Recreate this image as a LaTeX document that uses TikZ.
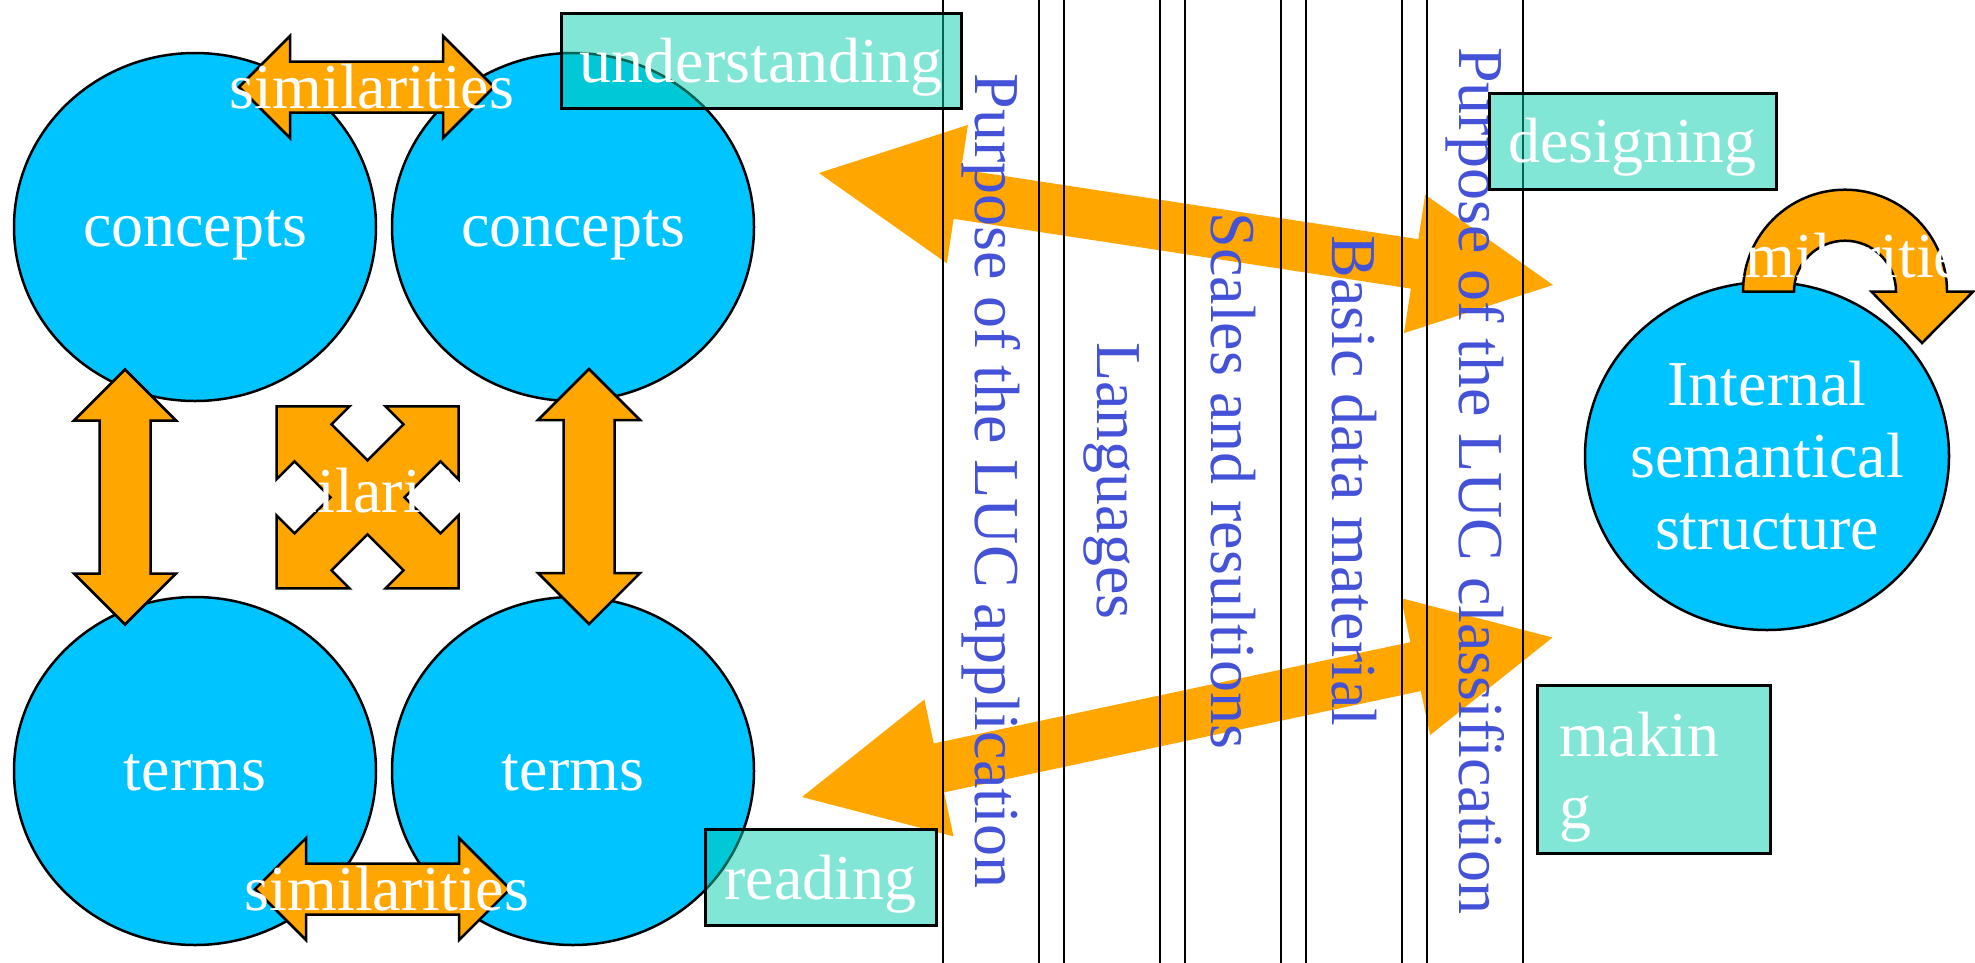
\documentclass[tikz,border=0pt]{standalone}
\usepackage{fontspec}
\setmainfont{Liberation Serif}
\usetikzlibrary{shapes.geometric,calc}

\definecolor{bubblecyan}{RGB}{0,196,255}
\definecolor{arrowfill}{RGB}{255,166,0}
\definecolor{labelblue}{RGB}{68,82,216}
\definecolor{tagfill}{RGB}{0,206,172}

\tikzset{
  bigtext/.style={font=\fontsize{64}{72}\selectfont},
  bubble/.style={ellipse, draw=black, line width=2.5pt, fill=bubblecyan,
    text=white, inner sep=0pt, minimum width=362pt, minimum height=348pt, bigtext},
  oneline/.style={text height=50pt, text depth=12pt},
  blockarrow/.style={draw=black, line width=2.5pt, fill=arrowfill, line join=miter},
  widearrow/.style={fill=arrowfill},
  lucband/.style={draw=black, line width=2.2pt, rotate=-90, minimum width=1300pt,
    minimum height=96pt, inner sep=0pt, text=labelblue, bigtext},
  tagbox/.style={draw=black, line width=3pt, fill=tagfill, fill opacity=0.49,
    text opacity=1, text=white, inner sep=0pt, bigtext},
  tagline/.style={text height=48pt, text depth=5pt},
  simlabel/.style={text=white, bigtext, inner sep=0pt, anchor=base},
  pics/dblarrow/.style={code={
    \draw[blockarrow] (-127.5,0) -- (-76.5,-51) -- (-76.5,-25.5) -- (76.5,-25.5)
      -- (76.5,-51) -- (127.5,0) -- (76.5,51) -- (76.5,25.5) -- (-76.5,25.5)
      -- (-76.5,51) -- cycle;
  }},
}

\begin{document}
\begin{tikzpicture}[x=1pt, y=-1pt]
\useasboundingbox (0,0) rectangle (1975,962);
\clip (0,0) rectangle (1975,962);
\fill[white] (0,0) rectangle (1975,962);

% concept / term bubbles and the internal structure
\node[bubble, oneline] (conceptsL) at (195,227) {concepts};
\node[bubble, oneline] (conceptsR) at (573,227) {concepts};
\node[bubble, oneline] (termsL) at (195,771) {terms};
\node[bubble, oneline] (termsR) at (573,771) {terms};
\node[bubble, minimum width=364pt] (internal) at (1767,456) {};
\node[text=white, bigtext, align=center, inner sep=0pt] (internalText)
  at (internal.center) {Internal\\semantical\\structure};

% outlined block arrows between the bubbles
\pic at (366.5,87) {dblarrow};
\pic at (382.5,889) {dblarrow};
\pic[rotate=90] at (125,497) {dblarrow};
\pic[rotate=90] at (589,496.5) {dblarrow};

% four-way diagonal arrow in the middle
\draw[blockarrow, shift={(367.5,497.3)}]
  (-91,-91) -- (-18,-91) -- (-36,-73) -- (0,-37) -- (36,-73) -- (18,-91)
  -- (91,-91) -- (91,-18) -- (73,-36) -- (37,0) -- (73,36) -- (91,18)
  -- (91,91) -- (18,91) -- (36,73) -- (0,37) -- (-36,73) -- (-18,91)
  -- (-91,91) -- (-91,18) -- (-73,36) -- (-37,0) -- (-73,-36) -- (-91,-18)
  -- cycle;

% U-turn arrow on top of the internal structure
\draw[blockarrow] (1743,291.7) arc[start angle=180, end angle=0, radius=102pt]
  -- (1973,291.7) -- (1922,343) -- (1871.5,291.7) -- (1896,291.7)
  arc[start angle=0, end angle=180, radius=51pt] -- cycle;

% wide double arrows across the bands
\coordinate (upL) at (819,173);
\coordinate (upR) at (1553,285);
\coordinate (loL) at (802,797);
\coordinate (loR) at (1552.5,637.5);

\fill[widearrow] (upL)
  -- ($(upL)!140pt!(upR)!70pt!90:(upR)$)
  -- ($(upL)!140pt!(upR)!25pt!90:(upR)$)
  -- ($(upR)!140pt!(upL)!25pt!-90:(upL)$)
  -- ($(upR)!140pt!(upL)!70pt!-90:(upL)$)
  -- (upR)
  -- ($(upR)!140pt!(upL)!70pt!90:(upL)$)
  -- ($(upR)!140pt!(upL)!25pt!90:(upL)$)
  -- ($(upL)!140pt!(upR)!25pt!-90:(upR)$)
  -- ($(upL)!140pt!(upR)!70pt!-90:(upR)$)
  -- cycle;

\fill[widearrow] (loL)
  -- ($(loL)!140pt!(loR)!70pt!90:(loR)$)
  -- ($(loL)!140pt!(loR)!25pt!90:(loR)$)
  -- ($(loR)!140pt!(loL)!25pt!-90:(loL)$)
  -- ($(loR)!140pt!(loL)!70pt!-90:(loL)$)
  -- (loR)
  -- ($(loR)!140pt!(loL)!70pt!90:(loL)$)
  -- ($(loR)!140pt!(loL)!25pt!90:(loL)$)
  -- ($(loL)!140pt!(loR)!25pt!-90:(loR)$)
  -- ($(loL)!140pt!(loR)!70pt!-90:(loR)$)
  -- cycle;

% vertical bands
\node[lucband] (lucApp) at (991,481) {Purpose of the LUC application};
\node[lucband] (languages) at (1112,481) {Languages};
\node[lucband] (scales) at (1233,481) {Scales and resultions};
\node[lucband] (basic) at (1354,481) {Basic data material};
\node[lucband] (lucClass) at (1475,481) {Purpose of the LUC classification};

% activity tags
\node[tagbox, tagline, minimum width=400pt, minimum height=95pt] (understanding)
  at (761,60.5) {understanding};
\node[tagbox, tagline, minimum width=287pt, minimum height=96pt] (designing)
  at (1632.5,141) {designing};
\node[tagbox, tagline, minimum width=231pt, minimum height=96pt] (reading)
  at (820.5,877.5) {reading};
\node[tagbox, minimum width=233pt, minimum height=168pt, text width=189pt,
  align=left, font=\fontsize{64}{72}\selectfont] (making) at (1653.5,769)
  {\rule{0pt}{60pt}makin\\g};

% arrow labels
\node[simlabel] (simTop) at (372,108) {similarities};
\node[simlabel] (simBottom) at (387,910) {similarities};
\node[simlabel] (simCross) at (367.5,512) {similarities};
\node[simlabel] (simLoop) at (1845,277) {similarities};
\end{tikzpicture}
\end{document}
